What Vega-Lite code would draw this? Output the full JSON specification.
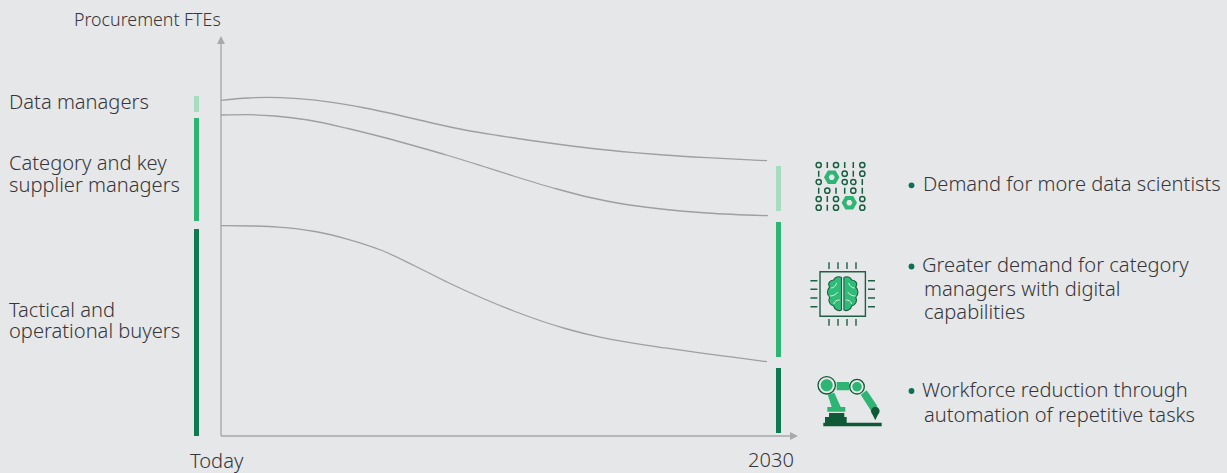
{
  "$schema": "https://vega.github.io/schema/vega-lite/v6.json",
  "width": 1227,
  "height": 473,
  "padding": 0,
  "autosize": {"type": "fit", "contains": "padding"},
  "background": "#e6e7e9",
  "view": {"stroke": null},
  "config": {"text": {"font": "Noto Sans", "fontWeight": 300, "fill": "#36363a", "align": "left", "baseline": "alphabetic"}},
  "datasets": {
    "curves": [
      {"edge": "upper", "t": 0, "fte": 335.7}, {"edge": "upper", "t": 27, "fte": 338}, {"edge": "upper", "t": 47, "fte": 338.7}, {"edge": "upper", "t": 77, "fte": 337.3}, {"edge": "upper", "t": 111, "fte": 333.7}, {"edge": "upper", "t": 144, "fte": 328}, {"edge": "upper", "t": 177, "fte": 321}, {"edge": "upper", "t": 211, "fte": 313}, {"edge": "upper", "t": 244, "fte": 306}, {"edge": "upper", "t": 277, "fte": 300.5}, {"edge": "upper", "t": 310, "fte": 295.5}, {"edge": "upper", "t": 343, "fte": 291}, {"edge": "upper", "t": 376, "fte": 287}, {"edge": "upper", "t": 410, "fte": 283.7}, {"edge": "upper", "t": 443, "fte": 281}, {"edge": "upper", "t": 486, "fte": 278.3}, {"edge": "upper", "t": 546, "fte": 275.3},
      {"edge": "middle", "t": 0, "fte": 321}, {"edge": "middle", "t": 27, "fte": 321.3}, {"edge": "middle", "t": 54, "fte": 320}, {"edge": "middle", "t": 87, "fte": 316}, {"edge": "middle", "t": 127, "fte": 307.5}, {"edge": "middle", "t": 161, "fte": 299}, {"edge": "middle", "t": 194, "fte": 290}, {"edge": "middle", "t": 227, "fte": 280.5}, {"edge": "middle", "t": 261, "fte": 270}, {"edge": "middle", "t": 294, "fte": 259.5}, {"edge": "middle", "t": 336, "fte": 247}, {"edge": "middle", "t": 369, "fte": 238.5}, {"edge": "middle", "t": 402, "fte": 232}, {"edge": "middle", "t": 436, "fte": 227.5}, {"edge": "middle", "t": 486, "fte": 223}, {"edge": "middle", "t": 547, "fte": 220.3},
      {"edge": "lower", "t": 0, "fte": 210.3}, {"edge": "lower", "t": 34, "fte": 210}, {"edge": "lower", "t": 61, "fte": 208.7}, {"edge": "lower", "t": 94, "fte": 204.5}, {"edge": "lower", "t": 127, "fte": 196.7}, {"edge": "lower", "t": 161, "fte": 185.5}, {"edge": "lower", "t": 194, "fte": 170}, {"edge": "lower", "t": 227, "fte": 153.5}, {"edge": "lower", "t": 261, "fte": 138}, {"edge": "lower", "t": 294, "fte": 124.5}, {"edge": "lower", "t": 346, "fte": 107}, {"edge": "lower", "t": 379, "fte": 98.8}, {"edge": "lower", "t": 412, "fte": 92.8}, {"edge": "lower", "t": 446, "fte": 87.8}, {"edge": "lower", "t": 479, "fte": 83.2}, {"edge": "lower", "t": 512, "fte": 78.8}, {"edge": "lower", "t": 546, "fte": 74.3}
    ],
    "segments": [
      {"role": "Data managers", "t": -27, "t2": -22, "fte": 340, "fte2": 324},
      {"role": "Category and key supplier managers", "t": -27, "t2": -22, "fte": 318, "fte2": 215},
      {"role": "Tactical and operational buyers", "t": -27, "t2": -22, "fte": 207, "fte2": 0},
      {"role": "Data managers", "t": 555, "t2": 560, "fte": 270, "fte2": 225},
      {"role": "Category and key supplier managers", "t": 555, "t2": 560, "fte": 214, "fte2": 79},
      {"role": "Tactical and operational buyers", "t": 555, "t2": 560, "fte": 68, "fte2": 3}
    ],
    "labels": [
      {"text": "Data managers", "t": -212, "fte": 327},
      {"text": "Category and key", "t": -212, "fte": 266},
      {"text": "supplier managers", "t": -212, "fte": 244},
      {"text": "Tactical and", "t": -212, "fte": 119},
      {"text": "operational buyers", "t": -212, "fte": 98},
      {"text": "Demand for more data scientists", "t": 702, "fte": 245},
      {"text": "Greater demand for category", "t": 701, "fte": 164},
      {"text": "managers with digital", "t": 703, "fte": 140},
      {"text": "capabilities", "t": 703, "fte": 117},
      {"text": "Workforce reduction through", "t": 701, "fte": 39},
      {"text": "automation of repetitive tasks", "t": 703, "fte": 14},
      {"text": "Today", "t": -31, "fte": -32},
      {"text": "2030", "t": 527, "fte": -31}
    ]
  },
  "data": {"name": "curves"},
  "encoding": {
    "x": {"field": "t", "type": "quantitative", "axis": null, "scale": {"domain": [-221, 1006], "nice": false, "zero": false}},
    "y": {"field": "fte", "type": "quantitative", "axis": null, "scale": {"domain": [-37, 436], "nice": false, "zero": false}}
  },
  "layer": [
    {
      "data": {"values": [{"t": 0, "fte": 0, "t2": 572, "fte2": 0}, {"t": 0, "fte": 0, "t2": 0, "fte2": 396}]},
      "mark": {"type": "rule", "stroke": "#a7a9ac", "strokeWidth": 1.4},
      "encoding": {"x2": {"field": "t2"}, "y2": {"field": "fte2"}}
    },
    {
      "data": {"values": [{"t": 0, "fte": 396}]},
      "mark": {"type": "point", "shape": "M0 -4L4 4L-4 4Z", "size": 4, "filled": true, "fill": "#a7a9ac", "opacity": 1}
    },
    {
      "data": {"values": [{"t": 573, "fte": 0}]},
      "mark": {"type": "point", "shape": "M-4 -4L4 0L-4 4Z", "size": 4, "filled": true, "fill": "#a7a9ac", "opacity": 1}
    },
    {
      "mark": {"type": "line", "interpolate": "monotone", "stroke": "#9d9fa2", "strokeWidth": 1.3},
      "encoding": {"detail": {"field": "edge"}}
    },
    {
      "data": {"name": "segments"},
      "mark": {"type": "rect"},
      "encoding": {
        "x2": {"field": "t2"},
        "y2": {"field": "fte2"},
        "color": {
          "field": "role",
          "type": "nominal",
          "legend": null,
          "scale": {
            "domain": ["Data managers", "Category and key supplier managers", "Tactical and operational buyers"],
            "range": ["#a8dcc0", "#2cb573", "#0e7a50"]
          }
        }
      }
    },
    {
      "data": {"name": "labels"},
      "mark": {"type": "text", "fontSize": 20.1},
      "encoding": {"text": {"field": "text"}}
    },
    {
      "data": {"values": [{"text": "Procurement FTEs", "t": -147, "fte": 410}]},
      "mark": {"type": "text", "fontSize": 17.8},
      "encoding": {"text": {"field": "text"}}
    },
    {
      "data": {"values": [{"t": 690.5, "fte": 250.7}, {"t": 690.5, "fte": 169.5}, {"t": 690.5, "fte": 45}]},
      "mark": {"type": "circle", "size": 34, "fill": "#0e6f54", "opacity": 1}
    },
    {
      "description": "binary digits of the data icon: rings and bars",
      "data": {"values": [{"t": 619.5, "fte": 250}]},
      "mark": {
        "type": "point", "size": 4, "filled": false, "stroke": "#175f40", "strokeWidth": 1.5, "opacity": 1,
        "shape": "M-24.4 -21a2.6 2.6 0 1 0 5.2 0a2.6 2.6 0 1 0 -5.2 0ZM-7.1 -21a2.6 2.6 0 1 0 5.2 0a2.6 2.6 0 1 0 -5.2 0ZM19.2 -21a2.6 2.6 0 1 0 5.2 0a2.6 2.6 0 1 0 -5.2 0ZM1.6 -12.3a2.6 2.6 0 1 0 5.2 0a2.6 2.6 0 1 0 -5.2 0ZM19.2 -12.3a2.6 2.6 0 1 0 5.2 0a2.6 2.6 0 1 0 -5.2 0ZM-24.4 -4a2.6 2.6 0 1 0 5.2 0a2.6 2.6 0 1 0 -5.2 0ZM1.6 -4a2.6 2.6 0 1 0 5.2 0a2.6 2.6 0 1 0 -5.2 0ZM10.2 -4a2.6 2.6 0 1 0 5.2 0a2.6 2.6 0 1 0 -5.2 0ZM-15.8 4.7a2.6 2.6 0 1 0 5.2 0a2.6 2.6 0 1 0 -5.2 0ZM10.2 4.7a2.6 2.6 0 1 0 5.2 0a2.6 2.6 0 1 0 -5.2 0ZM-24.4 13a2.6 2.6 0 1 0 5.2 0a2.6 2.6 0 1 0 -5.2 0ZM-7.1 13a2.6 2.6 0 1 0 5.2 0a2.6 2.6 0 1 0 -5.2 0ZM19.2 13a2.6 2.6 0 1 0 5.2 0a2.6 2.6 0 1 0 -5.2 0ZM-24.4 21.7a2.6 2.6 0 1 0 5.2 0a2.6 2.6 0 1 0 -5.2 0ZM-7.1 21.7a2.6 2.6 0 1 0 5.2 0a2.6 2.6 0 1 0 -5.2 0ZM19.2 21.7a2.6 2.6 0 1 0 5.2 0a2.6 2.6 0 1 0 -5.2 0ZM-13.2 -24v6M4.2 -24v6M12.8 -24v6M-21.8 -15.3v6M12.8 -15.3v6M21.8 -7v6M-21.8 1.7v6M-4.5 1.7v6M4.2 1.7v6M21.8 1.7v6M-13.2 10v6M-13.2 18.7v6"
      }
    },
    {
      "description": "cogs of the data icon",
      "data": {"values": [{"t": 619.5, "fte": 250}]},
      "mark": {
        "type": "point", "size": 4, "filled": false, "stroke": "#2cb573", "strokeWidth": 4, "opacity": 1,
        "shape": "M-3.4 -8.7L-6.1 -4L-11.5 -4L-14.2 -8.7L-11.5 -13.4L-6.1 -13.4ZM14.2 16.7L11.5 21.4L6.1 21.4L3.4 16.7L6.1 12L11.5 12Z"
      }
    },
    {
      "description": "chip outline and pins of the brain icon",
      "data": {"values": [{"t": 621.7, "fte": 142}]},
      "mark": {
        "type": "point", "size": 4, "filled": false, "stroke": "#1f6044", "strokeWidth": 1.4, "opacity": 1,
        "shape": "M-22.7 -22.3H22.7V22.3H-22.7ZM-13.7 -31.7V-25M-4.7 -31.7V-25M4.3 -31.7V-25M13.3 -31.7V-25M-13.7 25V31.7M-4.7 25V31.7M4.3 25V31.7M13.3 25V31.7M-32.3 -13.3H-25.3M-32.3 -4.7H-25.3M-32.3 4H-25.3M-32.3 12.7H-25.3M25.3 -13.3H32.3M25.3 -4.7H32.3M25.3 4H32.3M25.3 12.7H32.3"
      }
    },
    {
      "description": "brain lobes",
      "data": {"values": [{"t": 621.7, "fte": 142}]},
      "mark": {
        "type": "point", "size": 4, "filled": true, "fill": "#2fbb78", "stroke": "#1f6044", "strokeWidth": 1.1, "opacity": 1,
        "shape": "M-1.2 -16.5C-4 -18 -8 -17 -9 -14C-13 -14 -15.5 -10 -13 -7C-16 -4 -16 1 -13 3C-15 7 -13 11 -9 12C-8 16 -4 17.5 -1.2 16ZM1.2 -16.5C4 -18 8 -17 9 -14C13 -14 15.5 -10 13 -7C16 -4 16 1 13 3C15 7 13 11 9 12C8 16 4 17.5 1.2 16Z"
      }
    },
    {
      "description": "folds of the brain",
      "data": {"values": [{"t": 621.7, "fte": 142}]},
      "mark": {
        "type": "point", "size": 4, "filled": false, "stroke": "#e6f4ec", "strokeWidth": 0.9, "opacity": 1,
        "shape": "M-12 -6C-9 -6 -7 -8 -6 -11M-13 2C-10 2 -7 1 -5 -2M-9 10C-8 7 -6 6 -3 6M12 -6C9 -6 7 -8 6 -11M13 2C10 2 7 1 5 -2M9 10C8 7 6 6 3 6"
      }
    },
    {
      "description": "robot arm: links and joints",
      "data": {"values": [{"t": 629, "fte": 34}]},
      "mark": {
        "type": "point", "size": 4, "filled": true, "fill": "#2cb573", "opacity": 1,
        "shape": "M-22.7 5H-4.7V9.7H-22.7ZM-22.3 -7.3L-15.7 -9.3L-9.3 5H-18.3ZM-13.3 -20H-1V-11.7H-13.3ZM10.7 -7.3L16.7 -11.7L27.3 4L21.3 9.3ZM-29.3 -16.7a6 6 0 1 0 12 0a6 6 0 1 0 -12 0ZM2.3 -15.3a4.7 4.7 0 1 0 9.4 0a4.7 4.7 0 1 0 -9.4 0Z"
      }
    },
    {
      "description": "robot arm: base and tool",
      "data": {"values": [{"t": 629, "fte": 34}]},
      "mark": {
        "type": "point", "size": 4, "filled": true, "fill": "#0f5a36", "opacity": 1,
        "shape": "M-26.7 20.7H31.7V24.3H-26.7ZM-25 15H-3.3V20.7H-25ZM-21 11H-5.7V15H-21ZM21 9a4.3 4.3 0 1 1 8.6 0C29.6 11 28 12 25.3 18.3C22.6 12 21 11 21 9Z"
      }
    },
    {
      "description": "robot arm: joint rims",
      "data": {"values": [{"t": 629, "fte": 34}]},
      "mark": {
        "type": "point", "size": 4, "filled": false, "stroke": "#0f5a36", "strokeWidth": 1.3, "opacity": 1,
        "shape": "M-32 -16.7a8.7 8.7 0 1 0 17.4 0a8.7 8.7 0 1 0 -17.4 0ZM-0.3 -15.3a7.3 7.3 0 1 0 14.6 0a7.3 7.3 0 1 0 -14.6 0Z"
      }
    }
  ]
}
